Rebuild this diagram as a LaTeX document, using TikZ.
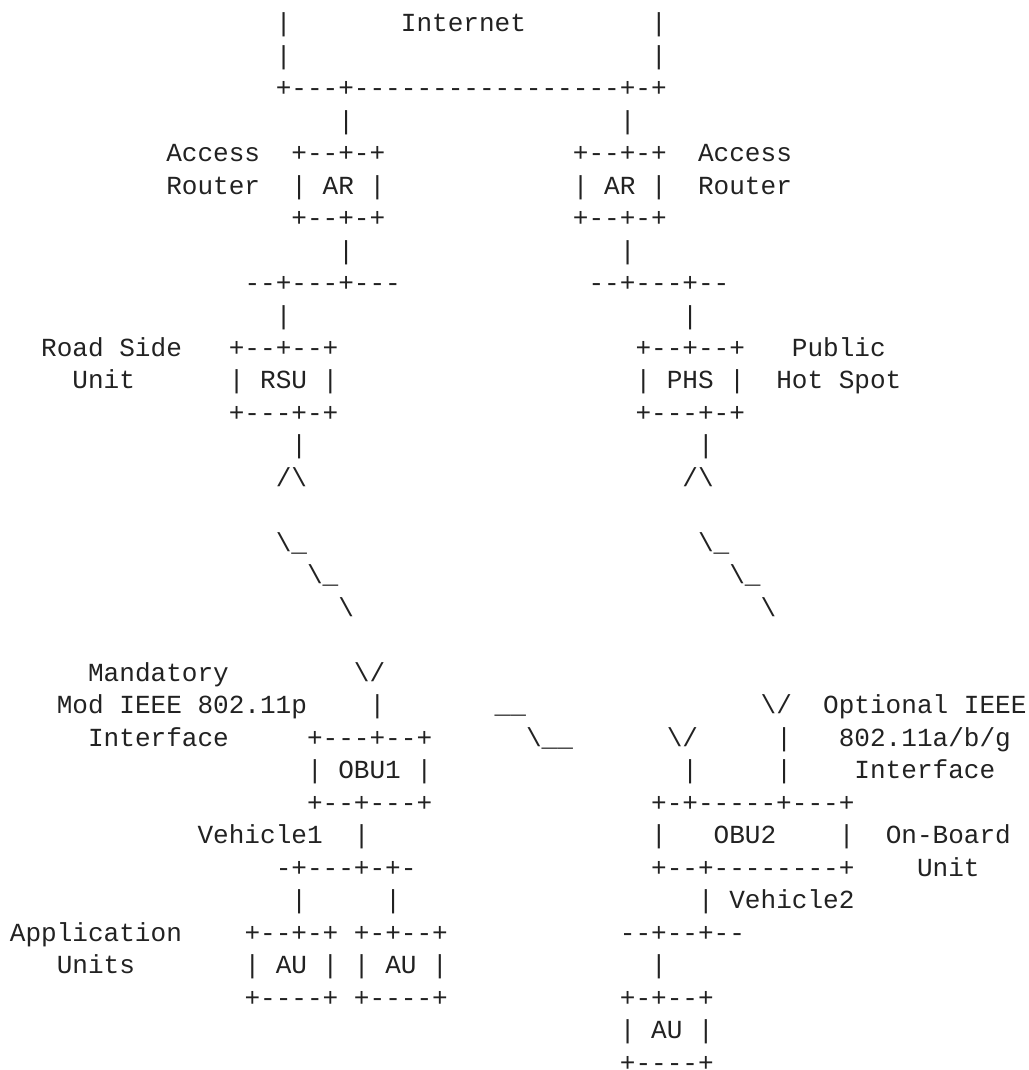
\documentclass[tikz,border=0pt]{standalone}
\usepackage{fontspec}
\setmonofont{Liberation Mono}
\definecolor{ink}{HTML}{222222}
\tikzset{
  ascii/.style={anchor=base west, inner sep=0pt, outer sep=0pt, text=ink,
    font=\ttfamily\fontsize{26.06pt}{32.48pt}\selectfont}
}
% one run of characters, placed on the character grid (column, row)
\newcommand\seg[4]{\node[ascii] (#1) at (#2,#3) {#4};}
\newcommand\bs{\textbackslash}

\begin{document}
\begin{tikzpicture}
\fill[white] (0pt,0pt) rectangle (1028pt,-1070pt);
\useasboundingbox (0pt,0pt) rectangle (1028pt,-1070pt);
\begin{scope}[x=15.64pt, y=-32.48pt, shift={(9.9pt,-31.7pt)}]
% Internet
\seg{inetL}{17}{0}{|} \seg{internet}{25}{0}{Internet} \seg{inetR}{41}{0}{|}
\seg{inetLb}{17}{1}{|} \seg{inetRb}{41}{1}{|}
\seg{inetbase}{17}{2}{+---+-----------------+-+}
\seg{upL}{21}{3}{|} \seg{upR}{39}{3}{|}
% access routers
\seg{arLlabA}{10}{4}{Access} \seg{arLtop}{18}{4}{+--+-+} \seg{arRtop}{36}{4}{+--+-+} \seg{arRlabA}{44}{4}{Access}
\seg{arLlabB}{10}{5}{Router} \seg{arL}{18}{5}{| AR |} \seg{arR}{36}{5}{| AR |} \seg{arRlabB}{44}{5}{Router}
\seg{arLbot}{18}{6}{+--+-+} \seg{arRbot}{36}{6}{+--+-+}
\seg{arLdown}{21}{7}{|} \seg{arRdown}{39}{7}{|}
\seg{busL}{15}{8}{--+---+---} \seg{busR}{37}{8}{--+---+--}
\seg{rsuup}{17}{9}{|} \seg{phsup}{43}{9}{|}
% road side unit and public hot spot
\seg{rsulabA}{2}{10}{Road Side} \seg{rsutop}{14}{10}{+--+--+} \seg{phstop}{40}{10}{+--+--+} \seg{phslabA}{50}{10}{Public}
\seg{rsulabB}{4}{11}{Unit} \seg{rsu}{14}{11}{| RSU |} \seg{phs}{40}{11}{| PHS |} \seg{phslabB}{49}{11}{Hot Spot}
\seg{rsubot}{14}{12}{+---+-+} \seg{phsbot}{40}{12}{+---+-+}
\seg{rsuant}{18}{13}{|} \seg{phsant}{44}{13}{|}
\seg{rsuhat}{17}{14}{/\bs} \seg{phshat}{43}{14}{/\bs}
% wireless links
\seg{wlA}{17}{16}{\bs\_} \seg{wrA}{44}{16}{\bs\_}
\seg{wlB}{19}{17}{\bs\_} \seg{wrB}{46}{17}{\bs\_}
\seg{wlC}{21}{18}{\bs} \seg{wrC}{48}{18}{\bs}
% on-board units
\seg{ifLlabA}{5}{20}{Mandatory} \seg{obuAant}{22}{20}{\bs/}
\seg{ifLlabB}{3}{21}{Mod IEEE 802.11p} \seg{obuAstem}{23}{21}{|} \seg{vvA}{31}{21}{\_\_} \seg{obuBantA}{48}{21}{\bs/} \seg{ifRlabA}{52}{21}{Optional IEEE}
\seg{ifLlabC}{5}{22}{Interface} \seg{obuAtop}{19}{22}{+---+--+} \seg{vvB}{33}{22}{\bs\_\_} \seg{obuBantB}{42}{22}{\bs/} \seg{obuBstemA}{49}{22}{|} \seg{ifRlabB}{53}{22}{802.11a/b/g}
\seg{obuA}{19}{23}{| OBU1 |} \seg{obuBstemB}{43}{23}{|} \seg{obuBstemC}{49}{23}{|} \seg{ifRlabC}{54}{23}{Interface}
\seg{obuAbot}{19}{24}{+--+---+} \seg{obuBtop}{41}{24}{+-+-----+---+}
\seg{vehA}{12}{25}{Vehicle1} \seg{obuAdown}{22}{25}{|} \seg{obuBl}{41}{25}{|} \seg{obuB}{45}{25}{OBU2} \seg{obuBr}{53}{25}{|} \seg{obuBlabA}{56}{25}{On-Board}
\seg{busA}{17}{26}{-+---+-+-} \seg{obuBbot}{41}{26}{+--+--------+} \seg{obuBlabB}{58}{26}{Unit}
\seg{auAup}{18}{27}{|} \seg{auBup}{24}{27}{|} \seg{vehBstem}{44}{27}{|} \seg{vehB}{46}{27}{Vehicle2}
% application units
\seg{aulabA}{0}{28}{Application} \seg{auAtop}{15}{28}{+--+-+} \seg{auBtop}{22}{28}{+-+--+} \seg{busB}{39}{28}{--+--+--}
\seg{aulabB}{3}{29}{Units} \seg{auA}{15}{29}{| AU |} \seg{auB}{22}{29}{| AU |} \seg{auCup}{41}{29}{|}
\seg{auAbot}{15}{30}{+----+} \seg{auBbot}{22}{30}{+----+} \seg{auCtop}{39}{30}{+-+--+}
\seg{auC}{39}{31}{| AU |}
\seg{auCbot}{39}{32}{+----+}
\end{scope}
\end{tikzpicture}
\end{document}
